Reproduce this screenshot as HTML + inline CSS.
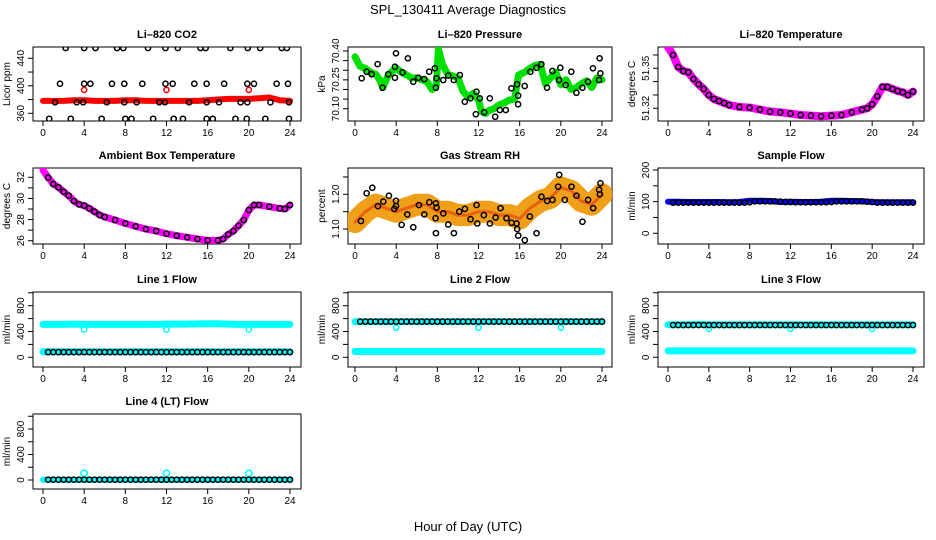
<!DOCTYPE html>
<html><head><meta charset="utf-8">
<style>
html,body{margin:0;padding:0;background:#fff;}
svg{display:block;font-family:"Liberation Sans",Arial,sans-serif;}
</style></head>
<body>
<svg id="chart" width="936" height="540" viewBox="0 0 936 540" xmlns="http://www.w3.org/2000/svg">
<text x="468" y="14" font-size="13" text-anchor="middle">SPL_130411  Average Diagnostics</text>
<text x="468" y="531" font-size="13" text-anchor="middle">Hour of Day (UTC)</text>
</svg>
<script>
const H25=[0,1,2,3,4,5,6,7,8,9,10,11,12,13,14,15,16,17,18,19,20,21,22,23,24];
const halfHours=[0.5,1,1.5,2,2.5,3,3.5,4,4.5,5,5.5,6,6.5,7,7.5,8,8.5,9,9.5,10,10.5,11,11.5,12,12.5,13,13.5,14,14.5,15,15.5,16,16.5,17,17.5,18,18.5,19,19.5,20,20.5,21,21.5,22,22.5,23,23.5,24];
const xTicks=[0,4,8,12,16,20,24];
const dipHours=[4,12,20];

// CO2
const co2Red=[378,378,378,379,379,378,378,378,379,379,378,378,378,378,378,378,379,380,381,381,381,382,383,379,378];
const co2RedOut=[394,394,394];
const co2TopH=[2.2,4.0,5.1,7.2,7.8,10.2,11.9,13.1,15.3,15.8,18.2,19.9,21.1,23.2,23.7];
const co2TopV=[455,455,455,455,455,455,455,455,455,455,455,455,455,455,455];
const co2MidH=[1.65,4,4.6,6.7,7.9,9.65,11.9,12.6,14.7,15.9,17.6,19.85,20.5,22.7,23.8];
const co2MidV=[403,403,403,403,403,403,403,403,403,403,403,403,403,403,403];
const co2LowH=[1.17,3.27,3.9,6.2,7.9,9.1,11.3,11.85,14.2,15.9,17.1,19.2,19.85,22.1,23.9];
const co2LowV=[376,376,376,376,376,376,376,376,376,376,376,376,376,376,376];
const co2BotH=[0.6,2.7,5.7,8.0,8.6,10.7,12.7,13.6,15.9,16.5,18.7,19.8,21.6,23.9];
const co2BotV=[352,352,352,352,352,352,352,352,352,352,352,352,352,352];

// Pressure
const presGH=[0,0.5,1,1.5,2,2.4,2.7,3.2,3.5,4,4.5,5,5.5,6,6.5,7,7.5,7.9,8.1,8.5,9,9.5,10,10.5,11,11.5,12,12.3,12.7,13,13.5,14,14.5,15,15.5,15.9,16.5,17,17.5,18,18.5,19,19.5,20,20.5,21,21.5,22,22.5,23,23.5,24];
const presG=[70.37,70.32,70.31,70.29,70.28,70.25,70.21,70.27,70.29,70.31,70.29,70.275,70.26,70.26,70.25,70.24,70.20,70.22,70.41,70.33,70.28,70.27,70.26,70.19,70.16,70.18,70.145,70.085,70.075,70.09,70.10,70.12,70.13,70.145,70.15,70.275,70.29,70.31,70.325,70.33,70.23,70.26,70.29,70.225,70.25,70.20,70.21,70.23,70.245,70.21,70.26,70.25];
const presBH=[0.65,1.13,1.62,2.2,2.68,3.23,3.88,3.88,3.98,4.62,5.14,5.66,6.15,6.73,7.21,7.76,7.86,7.92,8.57,9.06,9.6,10.19,10.67,11.22,11.8,11.74,12.13,12.55,13.1,13.62,14.07,14.65,15.2,15.75,15.85,15.85,16.49,17.04,17.63,18.11,18.66,19.18,19.83,19.95,20.47,21.02,21.51,22.09,22.64,23.12,23.71,23.77,23.84];
const presBV=[70.258,70.292,70.279,70.332,70.209,70.279,70.318,70.261,70.388,70.289,70.362,70.240,70.261,70.254,70.292,70.310,70.209,70.258,70.249,70.272,70.249,70.275,70.136,70.154,70.188,70.071,70.154,70.081,70.154,70.058,70.093,70.093,70.206,70.227,70.123,70.168,70.218,70.292,70.313,70.331,70.209,70.296,70.249,70.313,70.223,70.292,70.183,70.209,70.240,70.310,70.249,70.362,70.284];

// Li-820 temperature
const ltH=[0,0.5,1,1.5,2,2.5,3,3.5,4,4.5,5,5.5,6,7,8,9,10,11,12,13,14,15,16,17,18,19,19.5,20,20.5,21,21.5,22,22.5,23,23.5,24];
const ltV=[51.366,51.360,51.351,51.348,51.347,51.342,51.338,51.3345,51.330,51.327,51.3255,51.324,51.3225,51.321,51.3205,51.319,51.3175,51.317,51.316,51.315,51.3145,51.314,51.3145,51.315,51.317,51.319,51.320,51.323,51.329,51.336,51.336,51.3345,51.333,51.332,51.330,51.3325];

// Ambient
const abH=[0,0.5,1,1.5,2,2.5,3,3.5,4,4.5,5,5.5,6,7,8,9,10,11,12,13,14,15,16,17,17.5,18,18.5,19,19.5,20,20.5,21,22,23,23.5,24];
const abV=[32.69,31.97,31.37,31.05,30.64,30.26,29.76,29.44,29.32,29.06,28.75,28.43,28.24,27.96,27.64,27.36,27.10,26.92,26.66,26.47,26.32,26.16,26.03,26.03,26.16,26.60,26.92,27.42,27.96,28.90,29.38,29.38,29.22,29.06,29.00,29.38];

// RH
const rhBand=[1.12,1.15,1.17,1.16,1.15,1.16,1.17,1.17,1.15,1.15,1.14,1.14,1.15,1.15,1.14,1.14,1.13,1.16,1.18,1.19,1.22,1.21,1.18,1.17,1.20];
const rhBH=[0.58,1.13,1.68,2.23,2.75,3.3,3.82,3.98,3.98,4.53,5.08,5.66,6.21,6.73,7.22,7.83,7.86,7.86,7.93,8.58,9.06,9.61,10.13,10.68,11.23,11.81,11.88,12.52,13.11,13.66,14.14,14.72,15.21,15.7,15.76,15.86,16.5,16.99,17.64,18.12,18.67,19.19,19.74,19.84,20.39,21.04,21.52,22.1,22.65,23.14,23.72,23.79,23.85];
const rhBV=[1.123,1.203,1.219,1.166,1.179,1.196,1.158,1.181,1.166,1.112,1.142,1.105,1.169,1.142,1.177,1.131,1.174,1.088,1.162,1.145,1.113,1.088,1.150,1.158,1.128,1.169,1.116,1.140,1.116,1.133,1.160,1.131,1.118,1.116,1.100,1.081,1.068,1.136,1.088,1.193,1.181,1.184,1.222,1.256,1.184,1.222,1.196,1.121,1.184,1.160,1.213,1.200,1.232];

// Sample flow
const sfBlue=[100,100,99,99,99,99,98,99,103,103,102,99,100,99,99,100,103,103,102,101,99,98,98,98,98];
const sfBlack=[97,97,97,97,97,97,97,97,97,97,97,97,97,97,97,98,101,101,101,101,101,100,99,99,98,98,98,98,98,98,98,99,101,101,101,101,101,101,100,99,97,97,97,97,97,97,97,97];

// Line flows
const l1Up=[510,510,510,515,510,510,510,510,510,510,510,510,515,515,515,518,520,520,515,510,510,510,510,510,510];
const l1Low=[85,85,85,85,85,85,85,85,85,85,85,85,85,85,85,85,85,85,85,85,85,85,85,85,85];
const l1Dip=[430,430,430];
const l1Black=[80,80,80,80,80,80,80,80,80,80,80,80,80,80,80,80,80,80,80,80,80,80,80,80,80,80,80,80,80,80,80,80,80,80,80,80,80,80,80,80,80,80,80,80,80,80,80,80];
const l2Up=[550,555,555,555,555,555,555,555,555,555,555,555,555,555,555,555,555,555,555,555,555,555,555,555,555];
const l2Low=[90,90,90,90,90,90,90,90,90,90,90,90,90,90,90,90,90,90,90,90,90,90,90,90,90];
const l2Dip=[460,460,460];
const l2Black=[553,553,553,553,553,553,553,553,553,553,553,553,553,553,553,553,553,553,553,553,553,553,553,553,553,553,553,553,553,553,553,553,553,553,553,553,553,553,553,553,553,553,553,553,553,553,553,553];
const l3Up=[505,505,505,510,505,505,505,505,505,505,505,505,505,505,505,505,505,505,505,505,505,505,505,505,505];
const l3Low=[100,100,100,100,100,100,100,100,100,100,100,100,100,100,100,100,100,100,100,100,100,100,100,100,100];
const l3Dip=[440,440,440];
const l3Black=[500,500,500,500,500,500,500,500,500,500,500,500,500,500,500,500,500,500,500,500,500,500,500,500,500,500,500,500,500,500,500,500,500,500,500,500,500,500,500,500,500,500,500,500,500,500,500,500];
const l4Cyan=[5,5,5,5,5,5,5,5,5,5,5,5,5,5,5,5,5,5,5,5,5,5,5,5,5];
const l4Bump=[105,105,105];
const l4Black=[5,5,5,5,5,5,5,5,5,5,5,5,5,5,5,5,5,5,5,5,5,5,5,5,5,5,5,5,5,5,5,5,5,5,5,5,5,5,5,5,5,5,5,5,5,5,5,5];

const svg=document.getElementById('chart');
const NS='http://www.w3.org/2000/svg';
function mk(tag,attrs,parent){const e=document.createElementNS(NS,tag);for(const k in attrs)e.setAttribute(k,attrs[k]);(parent||svg).appendChild(e);return e;}

const cols=[{l:33,r:301,x0:43,x24:290},{l:348,r:612,x0:355,x24:602},{l:658,r:924,x0:668,x24:913}];
const rows=[{t:47,b:121},{t:168,b:244},{t:292,b:367},{t:414,b:489}];

function makePanel(name,title,ylab,ci,ri,v1,p1,v2,p2,yTicks,yLabels){
  const c=cols[ci],r=rows[ri];
  const g=mk('g',{});
  
  
  const xs=h=>c.x0+(c.x24-c.x0)*h/24;
  const ys=v=>p1+(p2-p1)*(v-v1)/(v2-v1);
  const t=mk('text',{x:(c.l+c.r)/2,y:r.t-9,'font-size':11,'font-weight':'bold','text-anchor':'middle'},g);
  t.textContent=title;
  
  
  const box=mk('rect',{x:c.l,y:r.t,width:c.r-c.l,height:r.b-r.t,fill:'none',stroke:'#000','stroke-width':1},g);
  
  
  const xa=mk('g',{},g);
  
  
  mk('line',{x1:xs(0),x2:xs(24),y1:r.b,y2:r.b,stroke:'#000'},xa);
  xTicks.forEach(h=>{
    mk('line',{x1:xs(h),x2:xs(h),y1:r.b,y2:r.b+5,stroke:'#000'},xa);
    const tl=mk('text',{x:xs(h),y:r.b+15,'font-size':10,'text-anchor':'middle'},xa);
    tl.textContent=h;
    
    
  });
  const ya=mk('g',{},g);
  
  
  mk('line',{x1:c.l,x2:c.l,y1:ys(yTicks[0]),y2:ys(yTicks[yTicks.length-1]),stroke:'#000'},ya);
  yTicks.forEach(v=>{mk('line',{x1:c.l-5,x2:c.l,y1:ys(v),y2:ys(v),stroke:'#000'},ya);});
  yLabels.forEach(lb=>{
    const yy=ys(parseFloat(lb)), xx=c.l-9;
    const tl=mk('text',{x:xx,y:yy,'font-size':10,'text-anchor':'middle',transform:`rotate(-90 ${xx} ${yy})`},ya);
    tl.textContent=lb;
    
    
  });
  const yl=mk('text',{x:c.l-23,y:(r.t+r.b)/2,'font-size':10,'text-anchor':'middle',transform:`rotate(-90 ${c.l-23} ${(r.t+r.b)/2})`},g);
  yl.textContent=ylab;
  
  
  const clip='clip-'+name;
  const cp=mk('clipPath',{id:clip},g);mk('rect',{x:c.l,y:r.t,width:c.r-c.l,height:r.b-r.t},cp);
  const data=mk('g',{'clip-path':`url(#${clip})`},g);
  return {xs,ys,g:data};
}
function band(P,hs,vs,color,w,name){
  const pts=hs.map((h,i)=>P.xs(h).toFixed(1)+','+P.ys(vs[i]).toFixed(1)).join(' ');
  const pl=mk('polyline',{points:pts,fill:'none',stroke:color,'stroke-width':w,'stroke-linejoin':'round','stroke-linecap':'round'},P.g);
  
  
}
function pts(P,hs,vs,color,name,r){
  const grp=mk('g',{},P.g);
  
  
  hs.forEach((h,i)=>{
    const c=mk('circle',{cx:P.xs(h),cy:P.ys(vs[i]),r:r||2.6,fill:'none',stroke:color,'stroke-width':1.5},grp);
    
    
  });
}

// Panels
let P;
P=makePanel('co2','Li\u2013820 CO2','Licor ppm',0,0,360,113.3,440,58.3,[360,380,400,420,440],['360','400','440']);
band(P,H25,co2Red,'#ff0000',6,'co2-red-series');
pts(P,dipHours,co2RedOut,'#ff0000','co2-red-outliers');
pts(P,co2TopH,co2TopV,'#000','co2-black-high');
pts(P,co2MidH,co2MidV,'#000','co2-black-mid');
pts(P,co2LowH,co2LowV,'#000','co2-black-low');
pts(P,co2BotH,co2BotV,'#000','co2-black-bottom');

P=makePanel('pressure','Li\u2013820 Pressure','kPa',1,0,70.10,108.7,70.40,51,[70.10,70.15,70.20,70.25,70.30,70.35,70.40],['70.10','70.25','70.40']);
band(P,presGH,presG,'#00e000',7,'pressure-green-series');
pts(P,presBH,presBV,'#000','pressure-black-points');

P=makePanel('li-temp','Li\u2013820 Temperature','degrees C',2,0,51.32,108.3,51.35,68.3,[51.32,51.33,51.34,51.35,51.36],['51.32','51.35']);
band(P,ltH,ltV,'#ff00ff',8,'li-temp-magenta-series');
pts(P,ltH.slice(1),ltV.slice(1),'#000','li-temp-black-points');

P=makePanel('ambient','Ambient Box Temperature','degrees C',0,1,26,240.7,32,177.3,[26,27,28,29,30,31,32],['26','28','30','32']);
band(P,abH,abV,'#ff00ff',7,'ambient-magenta-series');
pts(P,abH.slice(1),abV.slice(1),'#000','ambient-black-points');

P=makePanel('rh','Gas Stream RH','percent',1,1,1.10,229,1.20,194.3,[1.10,1.15,1.20,1.25],['1.10','1.20']);
band(P,H25,rhBand,'#f0a018',22,'rh-orange-series');
band(P,H25,rhBand,'#e86010',3,'rh-red-series');
pts(P,rhBH,rhBV,'#000','rh-black-points');

P=makePanel('sample-flow','Sample Flow','ml/min',2,1,0,233.3,200,170,[0,50,100,150,200],['0','100','200']);
band(P,H25,sfBlue,'#0000ff',6,'sample-flow-blue-series');
pts(P,halfHours,sfBlack,'#000','sample-flow-black-points');

const fT=[0,200,400,600,800,1000],fL=['0','400','800'];
P=makePanel('line1','Line 1 Flow','ml/min',0,2,0,357.3,800,305.7,fT,fL);
band(P,H25,l1Up,'#00ffff',7,'line1-cyan-upper');
band(P,H25,l1Low,'#00ffff',7,'line1-cyan-lower');
pts(P,dipHours,l1Dip,'#00ffff','line1-cyan-dips');
pts(P,halfHours,l1Black,'#000','line1-black-points');

P=makePanel('line2','Line 2 Flow','ml/min',1,2,0,357.3,800,305.7,fT,fL);
band(P,H25,l2Low,'#00ffff',7,'line2-cyan-lower');
band(P,H25,l2Up,'#00ffff',7,'line2-cyan-upper');
pts(P,dipHours,l2Dip,'#00ffff','line2-cyan-dips');
pts(P,halfHours,l2Black,'#000','line2-black-points');

P=makePanel('line3','Line 3 Flow','ml/min',2,2,0,357.3,800,305.7,fT,fL);
band(P,H25,l3Low,'#00ffff',7,'line3-cyan-lower');
band(P,H25,l3Up,'#00ffff',7,'line3-cyan-upper');
pts(P,dipHours,l3Dip,'#00ffff','line3-cyan-dips');
pts(P,halfHours,l3Black,'#000','line3-black-points');

P=makePanel('line4','Line 4 (LT) Flow','ml/min',0,3,0,480,800,429,fT,fL);
band(P,H25,l4Cyan,'#00ffff',6,'line4-cyan-series');
pts(P,dipHours,l4Bump,'#00ffff','line4-cyan-bumps',3.2);
pts(P,halfHours,l4Black,'#000','line4-black-points');
</script>
</body></html>
